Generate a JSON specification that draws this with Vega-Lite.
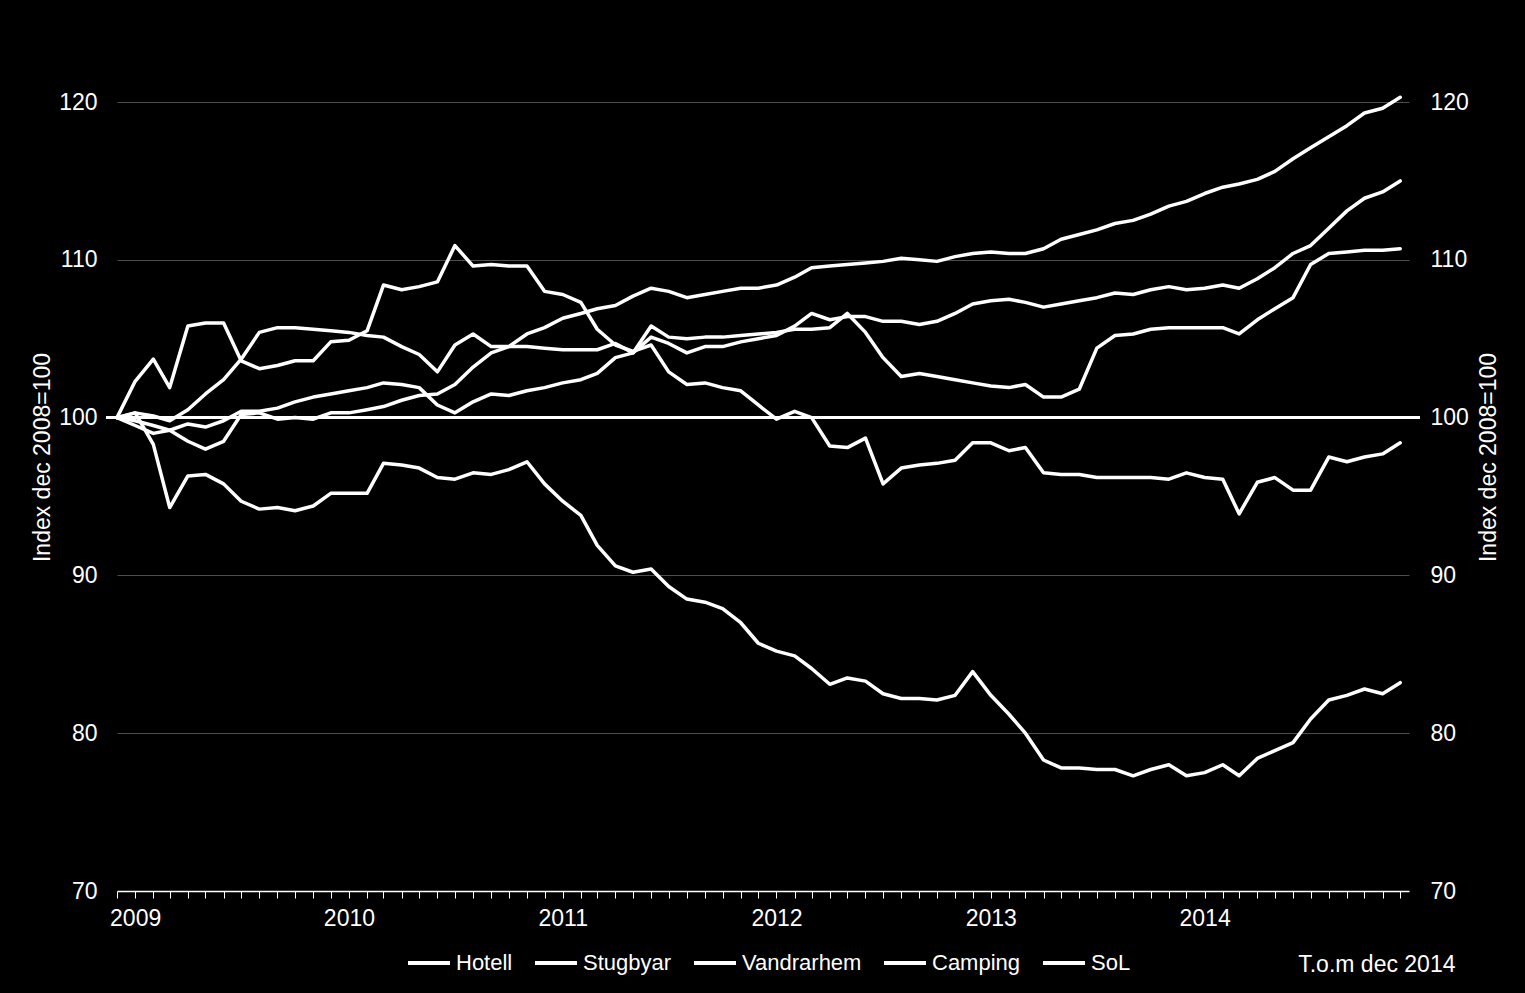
{
  "$schema": "https://vega.github.io/schema/vega-lite/v6.json",
  "width": 1292,
  "height": 789,
  "autosize": {"type": "none"},
  "padding": {"left": 117, "top": 102, "right": 116, "bottom": 102},
  "background": "black",
  "config": {"view": {"stroke": null}, "font": "Liberation Sans"},
  "data": {"values": [
    {"m":"2008-12","s":"Hotell","v":100},{"m":"2009-01","s":"Hotell","v":99.8},{"m":"2009-02","s":"Hotell","v":99.5},{"m":"2009-03","s":"Hotell","v":99.2},{"m":"2009-04","s":"Hotell","v":98.5},{"m":"2009-05","s":"Hotell","v":98.0},{"m":"2009-06","s":"Hotell","v":98.5},{"m":"2009-07","s":"Hotell","v":100.2},{"m":"2009-08","s":"Hotell","v":100.3},{"m":"2009-09","s":"Hotell","v":99.9},{"m":"2009-10","s":"Hotell","v":100.0},{"m":"2009-11","s":"Hotell","v":99.9},{"m":"2009-12","s":"Hotell","v":100.3},
    {"m":"2010-01","s":"Hotell","v":100.3},{"m":"2010-02","s":"Hotell","v":100.5},{"m":"2010-03","s":"Hotell","v":100.7},{"m":"2010-04","s":"Hotell","v":101.1},{"m":"2010-05","s":"Hotell","v":101.4},{"m":"2010-06","s":"Hotell","v":101.5},{"m":"2010-07","s":"Hotell","v":102.1},{"m":"2010-08","s":"Hotell","v":103.2},{"m":"2010-09","s":"Hotell","v":104.1},{"m":"2010-10","s":"Hotell","v":104.5},{"m":"2010-11","s":"Hotell","v":105.3},{"m":"2010-12","s":"Hotell","v":105.7},
    {"m":"2011-01","s":"Hotell","v":106.3},{"m":"2011-02","s":"Hotell","v":106.6},{"m":"2011-03","s":"Hotell","v":106.9},{"m":"2011-04","s":"Hotell","v":107.1},{"m":"2011-05","s":"Hotell","v":107.7},{"m":"2011-06","s":"Hotell","v":108.2},{"m":"2011-07","s":"Hotell","v":108.0},{"m":"2011-08","s":"Hotell","v":107.6},{"m":"2011-09","s":"Hotell","v":107.8},{"m":"2011-10","s":"Hotell","v":108.0},{"m":"2011-11","s":"Hotell","v":108.2},{"m":"2011-12","s":"Hotell","v":108.2},
    {"m":"2012-01","s":"Hotell","v":108.4},{"m":"2012-02","s":"Hotell","v":108.9},{"m":"2012-03","s":"Hotell","v":109.5},{"m":"2012-04","s":"Hotell","v":109.6},{"m":"2012-05","s":"Hotell","v":109.7},{"m":"2012-06","s":"Hotell","v":109.8},{"m":"2012-07","s":"Hotell","v":109.9},{"m":"2012-08","s":"Hotell","v":110.1},{"m":"2012-09","s":"Hotell","v":110.0},{"m":"2012-10","s":"Hotell","v":109.9},{"m":"2012-11","s":"Hotell","v":110.2},{"m":"2012-12","s":"Hotell","v":110.4},
    {"m":"2013-01","s":"Hotell","v":110.5},{"m":"2013-02","s":"Hotell","v":110.4},{"m":"2013-03","s":"Hotell","v":110.4},{"m":"2013-04","s":"Hotell","v":110.7},{"m":"2013-05","s":"Hotell","v":111.3},{"m":"2013-06","s":"Hotell","v":111.6},{"m":"2013-07","s":"Hotell","v":111.9},{"m":"2013-08","s":"Hotell","v":112.3},{"m":"2013-09","s":"Hotell","v":112.5},{"m":"2013-10","s":"Hotell","v":112.9},{"m":"2013-11","s":"Hotell","v":113.4},{"m":"2013-12","s":"Hotell","v":113.7},
    {"m":"2014-01","s":"Hotell","v":114.2},{"m":"2014-02","s":"Hotell","v":114.6},{"m":"2014-03","s":"Hotell","v":114.8},{"m":"2014-04","s":"Hotell","v":115.1},{"m":"2014-05","s":"Hotell","v":115.6},{"m":"2014-06","s":"Hotell","v":116.4},{"m":"2014-07","s":"Hotell","v":117.1},{"m":"2014-08","s":"Hotell","v":117.8},{"m":"2014-09","s":"Hotell","v":118.5},{"m":"2014-10","s":"Hotell","v":119.3},{"m":"2014-11","s":"Hotell","v":119.6},{"m":"2014-12","s":"Hotell","v":120.3},

    {"m":"2008-12","s":"Stugbyar","v":100},{"m":"2009-01","s":"Stugbyar","v":100.3},{"m":"2009-02","s":"Stugbyar","v":100.1},{"m":"2009-03","s":"Stugbyar","v":99.8},{"m":"2009-04","s":"Stugbyar","v":100.5},{"m":"2009-05","s":"Stugbyar","v":101.5},{"m":"2009-06","s":"Stugbyar","v":102.4},{"m":"2009-07","s":"Stugbyar","v":103.7},{"m":"2009-08","s":"Stugbyar","v":105.4},{"m":"2009-09","s":"Stugbyar","v":105.7},{"m":"2009-10","s":"Stugbyar","v":105.7},{"m":"2009-11","s":"Stugbyar","v":105.6},{"m":"2009-12","s":"Stugbyar","v":105.5},
    {"m":"2010-01","s":"Stugbyar","v":105.4},{"m":"2010-02","s":"Stugbyar","v":105.2},{"m":"2010-03","s":"Stugbyar","v":105.1},{"m":"2010-04","s":"Stugbyar","v":104.5},{"m":"2010-05","s":"Stugbyar","v":104.0},{"m":"2010-06","s":"Stugbyar","v":102.9},{"m":"2010-07","s":"Stugbyar","v":104.6},{"m":"2010-08","s":"Stugbyar","v":105.3},{"m":"2010-09","s":"Stugbyar","v":104.5},{"m":"2010-10","s":"Stugbyar","v":104.5},{"m":"2010-11","s":"Stugbyar","v":104.5},{"m":"2010-12","s":"Stugbyar","v":104.4},
    {"m":"2011-01","s":"Stugbyar","v":104.3},{"m":"2011-02","s":"Stugbyar","v":104.3},{"m":"2011-03","s":"Stugbyar","v":104.3},{"m":"2011-04","s":"Stugbyar","v":104.7},{"m":"2011-05","s":"Stugbyar","v":104.1},{"m":"2011-06","s":"Stugbyar","v":105.1},{"m":"2011-07","s":"Stugbyar","v":104.7},{"m":"2011-08","s":"Stugbyar","v":104.1},{"m":"2011-09","s":"Stugbyar","v":104.5},{"m":"2011-10","s":"Stugbyar","v":104.5},{"m":"2011-11","s":"Stugbyar","v":104.8},{"m":"2011-12","s":"Stugbyar","v":105.0},
    {"m":"2012-01","s":"Stugbyar","v":105.2},{"m":"2012-02","s":"Stugbyar","v":105.8},{"m":"2012-03","s":"Stugbyar","v":106.6},{"m":"2012-04","s":"Stugbyar","v":106.2},{"m":"2012-05","s":"Stugbyar","v":106.4},{"m":"2012-06","s":"Stugbyar","v":106.4},{"m":"2012-07","s":"Stugbyar","v":106.1},{"m":"2012-08","s":"Stugbyar","v":106.1},{"m":"2012-09","s":"Stugbyar","v":105.9},{"m":"2012-10","s":"Stugbyar","v":106.1},{"m":"2012-11","s":"Stugbyar","v":106.6},{"m":"2012-12","s":"Stugbyar","v":107.2},
    {"m":"2013-01","s":"Stugbyar","v":107.4},{"m":"2013-02","s":"Stugbyar","v":107.5},{"m":"2013-03","s":"Stugbyar","v":107.3},{"m":"2013-04","s":"Stugbyar","v":107.0},{"m":"2013-05","s":"Stugbyar","v":107.2},{"m":"2013-06","s":"Stugbyar","v":107.4},{"m":"2013-07","s":"Stugbyar","v":107.6},{"m":"2013-08","s":"Stugbyar","v":107.9},{"m":"2013-09","s":"Stugbyar","v":107.8},{"m":"2013-10","s":"Stugbyar","v":108.1},{"m":"2013-11","s":"Stugbyar","v":108.3},{"m":"2013-12","s":"Stugbyar","v":108.1},
    {"m":"2014-01","s":"Stugbyar","v":108.2},{"m":"2014-02","s":"Stugbyar","v":108.4},{"m":"2014-03","s":"Stugbyar","v":108.2},{"m":"2014-04","s":"Stugbyar","v":108.8},{"m":"2014-05","s":"Stugbyar","v":109.5},{"m":"2014-06","s":"Stugbyar","v":110.4},{"m":"2014-07","s":"Stugbyar","v":110.9},{"m":"2014-08","s":"Stugbyar","v":112.0},{"m":"2014-09","s":"Stugbyar","v":113.1},{"m":"2014-10","s":"Stugbyar","v":113.9},{"m":"2014-11","s":"Stugbyar","v":114.3},{"m":"2014-12","s":"Stugbyar","v":115.0},

    {"m":"2008-12","s":"Vandrarhem","v":100},{"m":"2009-01","s":"Vandrarhem","v":99.5},{"m":"2009-02","s":"Vandrarhem","v":99.0},{"m":"2009-03","s":"Vandrarhem","v":99.2},{"m":"2009-04","s":"Vandrarhem","v":99.6},{"m":"2009-05","s":"Vandrarhem","v":99.4},{"m":"2009-06","s":"Vandrarhem","v":99.8},{"m":"2009-07","s":"Vandrarhem","v":100.4},{"m":"2009-08","s":"Vandrarhem","v":100.4},{"m":"2009-09","s":"Vandrarhem","v":100.6},{"m":"2009-10","s":"Vandrarhem","v":101.0},{"m":"2009-11","s":"Vandrarhem","v":101.3},{"m":"2009-12","s":"Vandrarhem","v":101.5},
    {"m":"2010-01","s":"Vandrarhem","v":101.7},{"m":"2010-02","s":"Vandrarhem","v":101.9},{"m":"2010-03","s":"Vandrarhem","v":102.2},{"m":"2010-04","s":"Vandrarhem","v":102.1},{"m":"2010-05","s":"Vandrarhem","v":101.9},{"m":"2010-06","s":"Vandrarhem","v":100.8},{"m":"2010-07","s":"Vandrarhem","v":100.3},{"m":"2010-08","s":"Vandrarhem","v":101.0},{"m":"2010-09","s":"Vandrarhem","v":101.5},{"m":"2010-10","s":"Vandrarhem","v":101.4},{"m":"2010-11","s":"Vandrarhem","v":101.7},{"m":"2010-12","s":"Vandrarhem","v":101.9},
    {"m":"2011-01","s":"Vandrarhem","v":102.2},{"m":"2011-02","s":"Vandrarhem","v":102.4},{"m":"2011-03","s":"Vandrarhem","v":102.8},{"m":"2011-04","s":"Vandrarhem","v":103.8},{"m":"2011-05","s":"Vandrarhem","v":104.1},{"m":"2011-06","s":"Vandrarhem","v":105.8},{"m":"2011-07","s":"Vandrarhem","v":105.1},{"m":"2011-08","s":"Vandrarhem","v":105.0},{"m":"2011-09","s":"Vandrarhem","v":105.1},{"m":"2011-10","s":"Vandrarhem","v":105.1},{"m":"2011-11","s":"Vandrarhem","v":105.2},{"m":"2011-12","s":"Vandrarhem","v":105.3},
    {"m":"2012-01","s":"Vandrarhem","v":105.4},{"m":"2012-02","s":"Vandrarhem","v":105.6},{"m":"2012-03","s":"Vandrarhem","v":105.6},{"m":"2012-04","s":"Vandrarhem","v":105.7},{"m":"2012-05","s":"Vandrarhem","v":106.6},{"m":"2012-06","s":"Vandrarhem","v":105.4},{"m":"2012-07","s":"Vandrarhem","v":103.8},{"m":"2012-08","s":"Vandrarhem","v":102.6},{"m":"2012-09","s":"Vandrarhem","v":102.8},{"m":"2012-10","s":"Vandrarhem","v":102.6},{"m":"2012-11","s":"Vandrarhem","v":102.4},{"m":"2012-12","s":"Vandrarhem","v":102.2},
    {"m":"2013-01","s":"Vandrarhem","v":102.0},{"m":"2013-02","s":"Vandrarhem","v":101.9},{"m":"2013-03","s":"Vandrarhem","v":102.1},{"m":"2013-04","s":"Vandrarhem","v":101.3},{"m":"2013-05","s":"Vandrarhem","v":101.3},{"m":"2013-06","s":"Vandrarhem","v":101.8},{"m":"2013-07","s":"Vandrarhem","v":104.4},{"m":"2013-08","s":"Vandrarhem","v":105.2},{"m":"2013-09","s":"Vandrarhem","v":105.3},{"m":"2013-10","s":"Vandrarhem","v":105.6},{"m":"2013-11","s":"Vandrarhem","v":105.7},{"m":"2013-12","s":"Vandrarhem","v":105.7},
    {"m":"2014-01","s":"Vandrarhem","v":105.7},{"m":"2014-02","s":"Vandrarhem","v":105.7},{"m":"2014-03","s":"Vandrarhem","v":105.3},{"m":"2014-04","s":"Vandrarhem","v":106.2},{"m":"2014-05","s":"Vandrarhem","v":106.9},{"m":"2014-06","s":"Vandrarhem","v":107.6},{"m":"2014-07","s":"Vandrarhem","v":109.7},{"m":"2014-08","s":"Vandrarhem","v":110.4},{"m":"2014-09","s":"Vandrarhem","v":110.5},{"m":"2014-10","s":"Vandrarhem","v":110.6},{"m":"2014-11","s":"Vandrarhem","v":110.6},{"m":"2014-12","s":"Vandrarhem","v":110.7},

    {"m":"2008-12","s":"Camping","v":100},{"m":"2009-01","s":"Camping","v":102.3},{"m":"2009-02","s":"Camping","v":103.7},{"m":"2009-03","s":"Camping","v":101.9},{"m":"2009-04","s":"Camping","v":105.8},{"m":"2009-05","s":"Camping","v":106.0},{"m":"2009-06","s":"Camping","v":106.0},{"m":"2009-07","s":"Camping","v":103.6},{"m":"2009-08","s":"Camping","v":103.1},{"m":"2009-09","s":"Camping","v":103.3},{"m":"2009-10","s":"Camping","v":103.6},{"m":"2009-11","s":"Camping","v":103.6},{"m":"2009-12","s":"Camping","v":104.8},
    {"m":"2010-01","s":"Camping","v":104.9},{"m":"2010-02","s":"Camping","v":105.5},{"m":"2010-03","s":"Camping","v":108.4},{"m":"2010-04","s":"Camping","v":108.1},{"m":"2010-05","s":"Camping","v":108.3},{"m":"2010-06","s":"Camping","v":108.6},{"m":"2010-07","s":"Camping","v":110.9},{"m":"2010-08","s":"Camping","v":109.6},{"m":"2010-09","s":"Camping","v":109.7},{"m":"2010-10","s":"Camping","v":109.6},{"m":"2010-11","s":"Camping","v":109.6},{"m":"2010-12","s":"Camping","v":108.0},
    {"m":"2011-01","s":"Camping","v":107.8},{"m":"2011-02","s":"Camping","v":107.3},{"m":"2011-03","s":"Camping","v":105.6},{"m":"2011-04","s":"Camping","v":104.6},{"m":"2011-05","s":"Camping","v":104.2},{"m":"2011-06","s":"Camping","v":104.6},{"m":"2011-07","s":"Camping","v":102.9},{"m":"2011-08","s":"Camping","v":102.1},{"m":"2011-09","s":"Camping","v":102.2},{"m":"2011-10","s":"Camping","v":101.9},{"m":"2011-11","s":"Camping","v":101.7},{"m":"2011-12","s":"Camping","v":100.8},
    {"m":"2012-01","s":"Camping","v":99.9},{"m":"2012-02","s":"Camping","v":100.4},{"m":"2012-03","s":"Camping","v":100.0},{"m":"2012-04","s":"Camping","v":98.2},{"m":"2012-05","s":"Camping","v":98.1},{"m":"2012-06","s":"Camping","v":98.7},{"m":"2012-07","s":"Camping","v":95.8},{"m":"2012-08","s":"Camping","v":96.8},{"m":"2012-09","s":"Camping","v":97.0},{"m":"2012-10","s":"Camping","v":97.1},{"m":"2012-11","s":"Camping","v":97.3},{"m":"2012-12","s":"Camping","v":98.4},
    {"m":"2013-01","s":"Camping","v":98.4},{"m":"2013-02","s":"Camping","v":97.9},{"m":"2013-03","s":"Camping","v":98.1},{"m":"2013-04","s":"Camping","v":96.5},{"m":"2013-05","s":"Camping","v":96.4},{"m":"2013-06","s":"Camping","v":96.4},{"m":"2013-07","s":"Camping","v":96.2},{"m":"2013-08","s":"Camping","v":96.2},{"m":"2013-09","s":"Camping","v":96.2},{"m":"2013-10","s":"Camping","v":96.2},{"m":"2013-11","s":"Camping","v":96.1},{"m":"2013-12","s":"Camping","v":96.5},
    {"m":"2014-01","s":"Camping","v":96.2},{"m":"2014-02","s":"Camping","v":96.1},{"m":"2014-03","s":"Camping","v":93.9},{"m":"2014-04","s":"Camping","v":95.9},{"m":"2014-05","s":"Camping","v":96.2},{"m":"2014-06","s":"Camping","v":95.4},{"m":"2014-07","s":"Camping","v":95.4},{"m":"2014-08","s":"Camping","v":97.5},{"m":"2014-09","s":"Camping","v":97.2},{"m":"2014-10","s":"Camping","v":97.5},{"m":"2014-11","s":"Camping","v":97.7},{"m":"2014-12","s":"Camping","v":98.4},

    {"m":"2008-12","s":"SoL","v":100},{"m":"2009-01","s":"SoL","v":100.3},{"m":"2009-02","s":"SoL","v":98.3},{"m":"2009-03","s":"SoL","v":94.3},{"m":"2009-04","s":"SoL","v":96.3},{"m":"2009-05","s":"SoL","v":96.4},{"m":"2009-06","s":"SoL","v":95.8},{"m":"2009-07","s":"SoL","v":94.7},{"m":"2009-08","s":"SoL","v":94.2},{"m":"2009-09","s":"SoL","v":94.3},{"m":"2009-10","s":"SoL","v":94.1},{"m":"2009-11","s":"SoL","v":94.4},{"m":"2009-12","s":"SoL","v":95.2},
    {"m":"2010-01","s":"SoL","v":95.2},{"m":"2010-02","s":"SoL","v":95.2},{"m":"2010-03","s":"SoL","v":97.1},{"m":"2010-04","s":"SoL","v":97.0},{"m":"2010-05","s":"SoL","v":96.8},{"m":"2010-06","s":"SoL","v":96.2},{"m":"2010-07","s":"SoL","v":96.1},{"m":"2010-08","s":"SoL","v":96.5},{"m":"2010-09","s":"SoL","v":96.4},{"m":"2010-10","s":"SoL","v":96.7},{"m":"2010-11","s":"SoL","v":97.2},{"m":"2010-12","s":"SoL","v":95.8},
    {"m":"2011-01","s":"SoL","v":94.7},{"m":"2011-02","s":"SoL","v":93.8},{"m":"2011-03","s":"SoL","v":91.9},{"m":"2011-04","s":"SoL","v":90.6},{"m":"2011-05","s":"SoL","v":90.2},{"m":"2011-06","s":"SoL","v":90.4},{"m":"2011-07","s":"SoL","v":89.3},{"m":"2011-08","s":"SoL","v":88.5},{"m":"2011-09","s":"SoL","v":88.3},{"m":"2011-10","s":"SoL","v":87.9},{"m":"2011-11","s":"SoL","v":87.0},{"m":"2011-12","s":"SoL","v":85.7},
    {"m":"2012-01","s":"SoL","v":85.2},{"m":"2012-02","s":"SoL","v":84.9},{"m":"2012-03","s":"SoL","v":84.1},{"m":"2012-04","s":"SoL","v":83.1},{"m":"2012-05","s":"SoL","v":83.5},{"m":"2012-06","s":"SoL","v":83.3},{"m":"2012-07","s":"SoL","v":82.5},{"m":"2012-08","s":"SoL","v":82.2},{"m":"2012-09","s":"SoL","v":82.2},{"m":"2012-10","s":"SoL","v":82.1},{"m":"2012-11","s":"SoL","v":82.4},{"m":"2012-12","s":"SoL","v":83.9},
    {"m":"2013-01","s":"SoL","v":82.4},{"m":"2013-02","s":"SoL","v":81.2},{"m":"2013-03","s":"SoL","v":80.0},{"m":"2013-04","s":"SoL","v":78.3},{"m":"2013-05","s":"SoL","v":77.8},{"m":"2013-06","s":"SoL","v":77.8},{"m":"2013-07","s":"SoL","v":77.7},{"m":"2013-08","s":"SoL","v":77.7},{"m":"2013-09","s":"SoL","v":77.3},{"m":"2013-10","s":"SoL","v":77.7},{"m":"2013-11","s":"SoL","v":78.0},{"m":"2013-12","s":"SoL","v":77.3},
    {"m":"2014-01","s":"SoL","v":77.5},{"m":"2014-02","s":"SoL","v":78.0},{"m":"2014-03","s":"SoL","v":77.3},{"m":"2014-04","s":"SoL","v":78.4},{"m":"2014-05","s":"SoL","v":78.9},{"m":"2014-06","s":"SoL","v":79.4},{"m":"2014-07","s":"SoL","v":80.9},{"m":"2014-08","s":"SoL","v":82.1},{"m":"2014-09","s":"SoL","v":82.4},{"m":"2014-10","s":"SoL","v":82.8},{"m":"2014-11","s":"SoL","v":82.5},{"m":"2014-12","s":"SoL","v":83.2}
  ]},
  "layer": [
    {
      "mark": {"type": "rule", "color": "white", "strokeWidth": 2},
      "encoding": {
        "x": {"datum": {"year": 2008, "month": 11, "date": 13, "utc": true}, "type": "temporal"},
        "x2": {"datum": {"year": 2015, "month": 1, "date": 3, "utc": true}},
        "y": {
          "datum": 100, "type": "quantitative",
          "axis": {
            "orient": "right",
            "values": [70, 80, 90, 100, 110, 120],
            "title": "Index dec 2008=100",
            "titleColor": "white", "titleFont": "Liberation Sans", "titleFontSize": 23, "titleFontWeight": "normal",
            "titleAngle": 270, "titleX": 79, "titleY": 355, "titleAlign": "center", "titleBaseline": "middle",
            "labelColor": "white", "labelFont": "Liberation Sans", "labelFontSize": 23, "labelPadding": 21,
            "ticks": false, "tickSize": 0, "domain": false, "grid": false
          }
        }
      }
    },
    {
      "mark": {"type": "line", "strokeWidth": 3.5, "strokeJoin": "round", "strokeCap": "round"},
      "encoding": {
        "x": {
          "field": "m", "type": "temporal",
          "scale": {"type": "utc", "nice": false, "domain": [{"year": 2008, "month": 12, "date": 1, "utc": true}, {"year": 2014, "month": 12, "date": 16, "utc": true}]},
          "axis": {
            "title": "T.o.m dec 2014",
            "titleColor": "white", "titleFont": "Liberation Sans", "titleFontSize": 23, "titleFontWeight": "normal",
            "titleX": 1338, "titleY": 73, "titleAlign": "right", "titleBaseline": "middle",
            "tickCount": {"interval": "month", "step": 1},
            "labelExpr": "utcmonth(datum.value) == 0 ? utcFormat(datum.value, '%Y') : ''",
            "labelOverlap": false, "labelFlush": false, "labelBound": false,
            "labelColor": "white", "labelFont": "Liberation Sans", "labelFontSize": 23, "labelPadding": 9,
            "tickColor": "white", "tickSize": 7, "tickWidth": 1,
            "domainColor": "white", "domainWidth": 1.5, "grid": false
          }
        },
        "y": {
          "field": "v", "type": "quantitative",
          "scale": {"domain": [70, 120], "nice": false, "zero": false},
          "axis": {
            "orient": "left",
            "values": [70, 80, 90, 100, 110, 120],
            "title": "Index dec 2008=100",
            "titleColor": "white", "titleFont": "Liberation Sans", "titleFontSize": 23, "titleFontWeight": "normal",
            "titleAngle": 270, "titleX": -75, "titleY": 355, "titleAlign": "center", "titleBaseline": "middle",
            "labelColor": "white", "labelFont": "Liberation Sans", "labelFontSize": 23, "labelPadding": 20,
            "ticks": false, "tickSize": 0, "domain": false,
            "grid": true, "gridColor": "#4d4d4d", "gridWidth": 1,
            "gridOpacity": {"condition": {"test": "datum.value == 70 || datum.value == 100", "value": 0}, "value": 1}
          }
        },
        "color": {
          "field": "s", "type": "nominal",
          "scale": {"domain": ["Hotell", "Stugbyar", "Vandrarhem", "Camping", "SoL"], "range": ["white", "white", "white", "white", "white"]},
          "legend": {
            "orient": "none", "legendX": 289, "legendY": 838, "direction": "horizontal", "title": null,
            "symbolType": "stroke", "symbolSize": 1764, "symbolStrokeWidth": 4,
            "labelColor": "white", "labelFont": "Liberation Sans", "labelFontSize": 22, "labelOffset": 4,
            "columnPadding": 14, "padding": 0, "labelBaseline": "middle"
          }
        }
      }
    }
  ],
  "resolve": {"axis": {"y": "independent"}}
}
